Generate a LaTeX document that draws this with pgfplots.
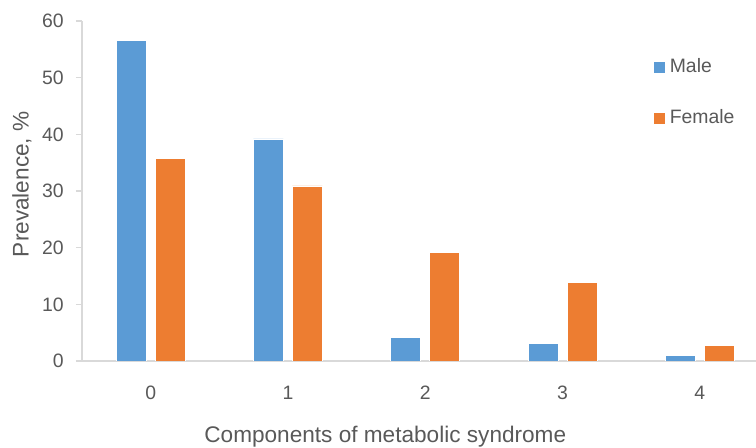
\documentclass[border=0pt]{standalone}
\usepackage{fontspec}
\setmainfont{Liberation Sans}
\usepackage{pgfplots}
\pgfplotsset{compat=1.18}
\definecolor{male}{HTML}{5B9BD5}
\definecolor{female}{HTML}{ED7D31}
\definecolor{txt}{HTML}{595959}
\definecolor{axln}{HTML}{D9D9D9}

\begin{document}
\begin{tikzpicture}
\begin{axis}[
    scale only axis,
    width=337pt, height=170pt,
    ybar=4.5pt, bar width=15pt,
    xmin=-0.5, xmax=4.409,
    ymin=0, ymax=60,
    xtick={0,1,2,3,4},
    ytick={0,10,20,30,40,50,60},
    axis x line*=bottom, axis y line*=left,
    axis line style={draw=axln, line width=0.6pt, -},
    x tick style={draw=none},
    y tick style={draw=axln, line width=0.6pt},
    tick align=outside, major tick length=3pt,
    /pgf/number format/assume math mode=true,
    tick label style={font=\fontsize{9.7}{11}\selectfont, text=txt},
    xticklabel style={anchor=center, yshift=-13pt, inner sep=0pt},
    yticklabel style={anchor=east, inner sep=0pt, xshift=-6pt},
    label style={font=\fontsize{11.3}{13}\selectfont, text=txt},
    xlabel={Components of metabolic syndrome},
    ylabel={Prevalence, \%},
    xlabel style={at={(axis description cs:0.45,0)}, anchor=center, yshift=-38pt},
    ylabel style={at={(axis description cs:0,0.52)}, anchor=center, yshift=30pt},
    legend style={draw=none, fill=none, at={(0.838,0.915)}, anchor=north west,
        font=\fontsize{9.7}{11}\selectfont, text=txt, row sep=13pt,
        /tikz/every even column/.style={column sep=2.5pt}},
    legend cell align=left,
    legend image code/.code={\fill[#1] (0pt,-3pt) rectangle (6pt,3pt);},
]
\addplot[fill=male, draw=white, line width=0.3pt] coordinates
    {(0,56.6) (1,39.2) (2,4.2) (3,3.1) (4,1.0)};
\addlegendentry{Male}
\addplot[fill=female, draw=white, line width=0.3pt] coordinates
    {(0,35.8) (1,30.9) (2,19.1) (3,13.8) (4,2.8)};
\addlegendentry{Female}
\end{axis}
\pgfresetboundingbox
\path[use as bounding box] ([xshift=-41pt,yshift=-43.5pt]current axis.south west)
    rectangle ([yshift=10.5pt]current axis.north east);
\end{tikzpicture}
\end{document}
